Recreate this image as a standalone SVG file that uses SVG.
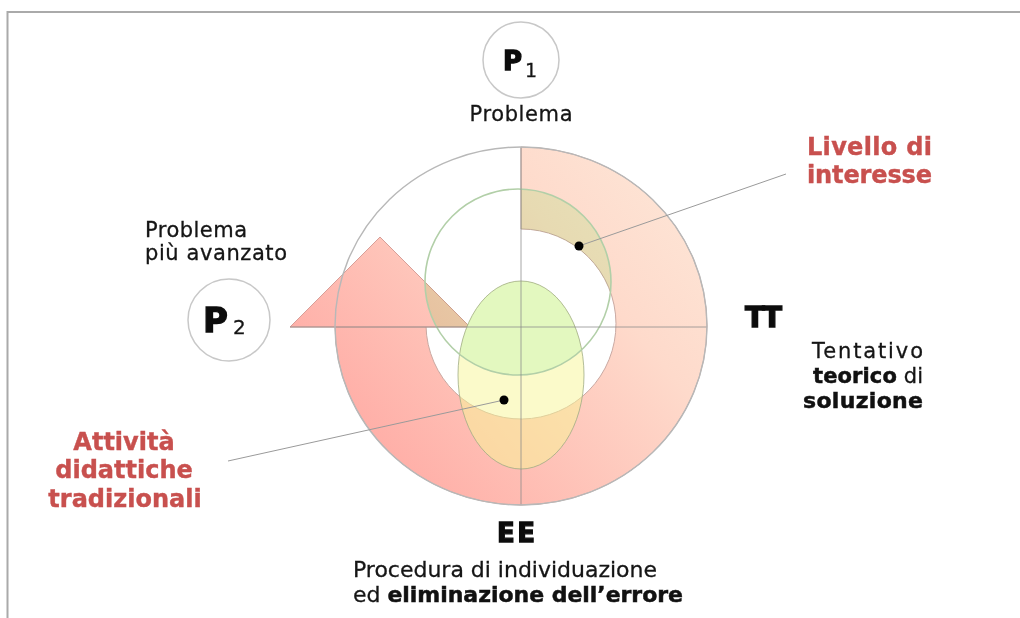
<svg xmlns="http://www.w3.org/2000/svg" width="1020" height="618" viewBox="0 0 1020 618">
<style>
.t{font-family:"DejaVu Sans",Verdana,sans-serif;fill:#151515;stroke:#151515;stroke-width:0.3}
.b{font-family:"DejaVu Sans",Verdana,sans-serif;font-weight:bold;fill:#111;stroke:#111;stroke-width:0.5}
.h{font-family:"DejaVu Sans",Verdana,sans-serif;font-weight:bold;fill:#0c0c0c;stroke:#0c0c0c;stroke-width:1.3}
.r{font-family:"DejaVu Sans",Verdana,sans-serif;font-weight:bold;fill:#c8504e;stroke:#c8504e;stroke-width:0.4}
.pc{fill:#fff;stroke:#c8c8c8;stroke-width:1.5}
.axis{stroke:#8a8a8a;stroke-width:1;opacity:0.75;fill:none}
.lead{stroke:#9a9a9a;stroke-width:1;fill:none}
</style>
<defs>
<linearGradient id="ringGrad" gradientUnits="userSpaceOnUse" x1="720" y1="170" x2="350" y2="480">
<stop offset="0" stop-color="#fde8d9"/>
<stop offset="0.35" stop-color="#fedacb"/>
<stop offset="1" stop-color="#ffa8a2"/>
</linearGradient>
<path id="ringShape" d="M521,147 A186,179 0 1 1 335,326 L426,326 A95,95 0 1 0 521,229 Z"/>
<path id="arrowHead" d="M290,327 L380,237 L470,327 Z"/>
<clipPath id="clipRing"><use href="#ringShape"/><use href="#arrowHead"/></clipPath>
<clipPath id="clipGreen"><circle cx="518" cy="282" r="93"/></clipPath>
</defs>

<g id="frame">
<line x1="7" y1="12" x2="1020" y2="12" stroke="#aaa" stroke-width="2"/>
<line x1="7.5" y1="11" x2="7.5" y2="618" stroke="#aaa" stroke-width="2"/>
</g>

<g id="cycle">
<use href="#ringShape" fill="url(#ringGrad)" stroke="#c9a9a2" stroke-width="1"/>
<use href="#arrowHead" fill="url(#ringGrad)" stroke="#d79f98" stroke-width="1"/>
<circle cx="518" cy="282" r="93" fill="#e8ffe0" clip-path="url(#clipRing)" style="mix-blend-mode:multiply"/>
</g>

<g id="ellipse-node">
<ellipse cx="521" cy="375" rx="63" ry="94" fill="#f8f596" opacity="0.5"/>
<ellipse cx="521" cy="375" rx="63" ry="94" fill="#e3f8bf" clip-path="url(#clipGreen)"/>
<ellipse cx="521" cy="375" rx="63" ry="94" fill="none" stroke="#a0ad85" stroke-width="1" opacity="0.8"/>
</g>

<g id="green-circle">
<circle cx="518" cy="282" r="93" fill="none" stroke="#b2cfa8" stroke-width="1.6"/>
</g>

<g id="connectors">
<line class="axis" x1="521" y1="147" x2="521" y2="505"/>
<line class="axis" x1="290" y1="327" x2="707" y2="327"/>
<ellipse cx="521" cy="326" rx="186" ry="179" fill="none" stroke="#b8b8b8" stroke-width="1.4"/>
<line class="lead" x1="579" y1="246" x2="786" y2="174"/>
<line class="lead" x1="504" y1="400" x2="228" y2="461"/>
<circle cx="579" cy="246" r="4.5" fill="#000"/>
<circle cx="504" cy="400" r="4.5" fill="#000"/>
</g>

<g id="P1">
<circle class="pc" cx="521" cy="60" r="38"/>
<text class="h" x="503" y="70" font-size="26">P</text>
<text class="t" x="525" y="77" font-size="19">1</text>
<text class="t" x="521" y="121" font-size="21" text-anchor="middle" textLength="103">Problema</text>
</g>

<g id="P2">
<circle class="pc" cx="229" cy="320" r="41"/>
<text class="h" x="203" y="332" font-size="34">P</text>
<text class="t" x="233" y="334" font-size="20">2</text>
<text class="t" x="145" y="237" font-size="21" textLength="102">Problema</text>
<text class="t" x="145" y="260" font-size="21" textLength="142">più avanzato</text>
</g>

<g id="livello">
<text class="r" x="807" y="155" font-size="24" textLength="125">Livello di</text>
<text class="r" x="807" y="183" font-size="24" textLength="125">interesse</text>
</g>

<g id="TT">
<text class="h" x="745" y="327" font-size="29" textLength="37">TT</text>
<text class="t" x="812" y="358" font-size="21" textLength="111">Tentativo</text>
<text class="t" x="813" y="383" font-size="21" textLength="110"><tspan class="b">teorico</tspan> di</text>
<text class="b" x="803" y="408" font-size="22" textLength="120">soluzione</text>
</g>

<g id="attivita">
<text class="r" x="124" y="450" font-size="24" text-anchor="middle">Attività</text>
<text class="r" x="124" y="478" font-size="24" text-anchor="middle">didattiche</text>
<text class="r" x="125" y="507" font-size="24" text-anchor="middle">tradizionali</text>
</g>

<g id="EE">
<text class="h" x="497" y="542" font-size="26" textLength="38">EE</text>
<text class="t" x="353" y="577" font-size="22" textLength="304">Procedura di individuazione</text>
<text class="t" x="353" y="602" font-size="22" textLength="330">ed <tspan class="b">eliminazione dell’errore</tspan></text>
</g>
</svg>
